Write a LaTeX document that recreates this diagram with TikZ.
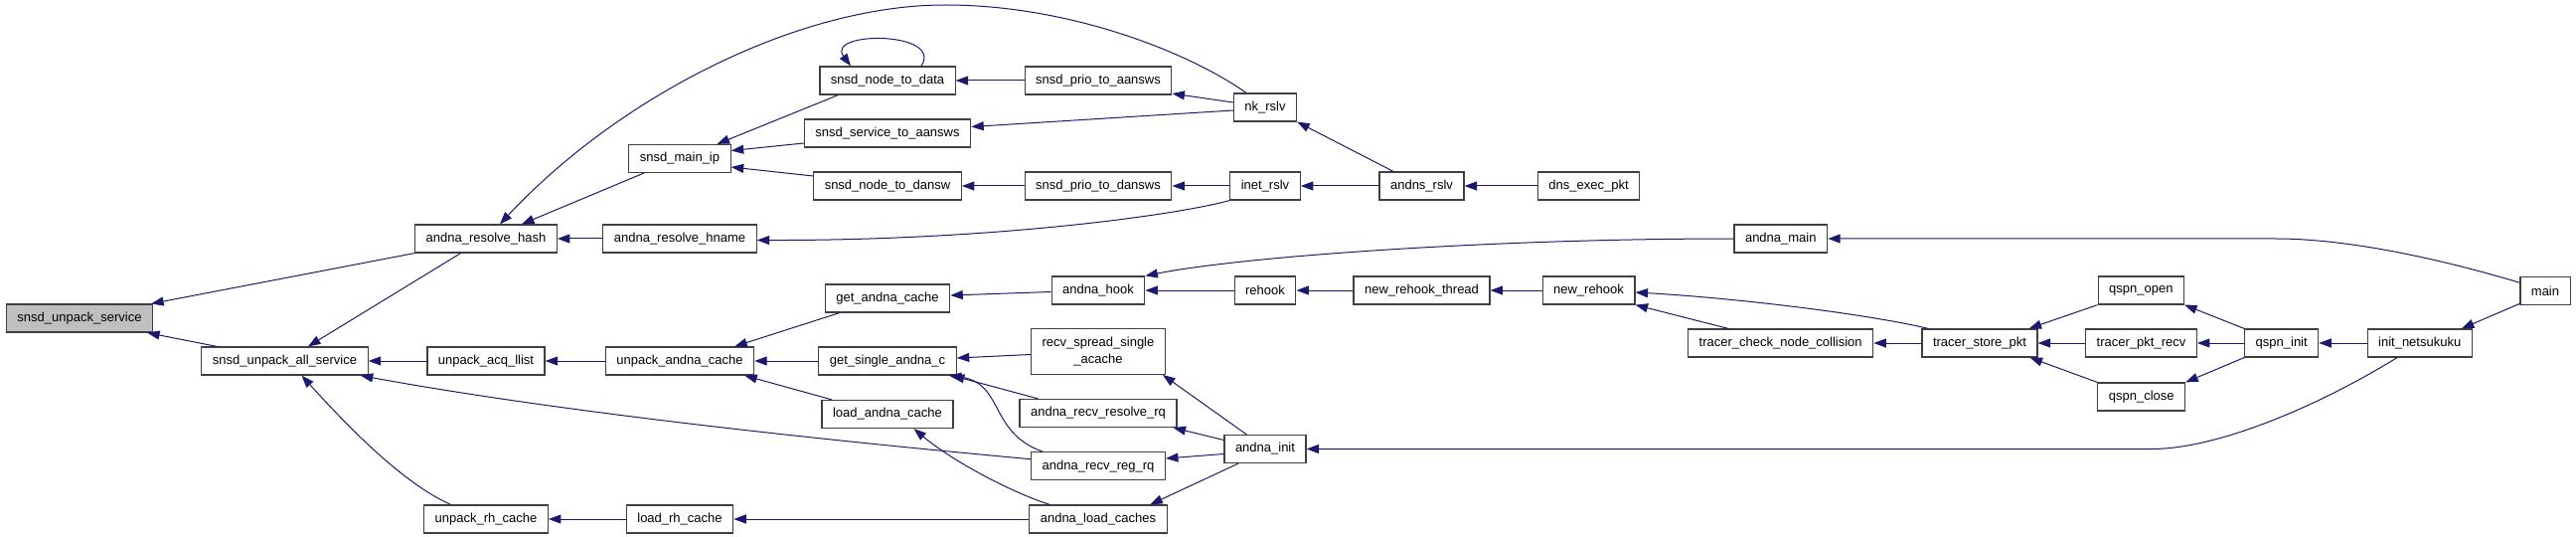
\documentclass[tikz,border=0pt]{standalone}
\usepackage{fontspec}
\setmainfont{Liberation Sans}
\usetikzlibrary{arrows.meta}
\definecolor{edgeblue}{HTML}{191970}
\definecolor{rootgray}{HTML}{BFBFBF}

\begin{document}
\begin{tikzpicture}[x=1pt, y=-1pt,
    fn/.style={draw=black!75, line width=1.2pt, fill=white, minimum height=28pt,
      inner xsep=11pt, inner ysep=2pt, font=\fontsize{13}{17.3}\selectfont},
    root/.style={fn, fill=rootgray},
    call/.style={draw=edgeblue, line width=1pt, -{Triangle[length=12.5pt, width=9pt]}}]
  \useasboundingbox (0,0) rectangle (2592,540);

  % functions, one column per rank
  \node[root] (unpackSvc) at (80,320) {snsd\_unpack\_service};
  \node[fn] (unpackAll) at (286.5,363) {snsd\_unpack\_all\_service};
  \node[fn] (resolveHash) at (489,240) {andna\_resolve\_hash};
  \node[fn] (acqLlist) at (489,363) {unpack\_acq\_llist};
  \node[fn] (rhCache) at (489,522) {unpack\_rh\_cache};
  \node[fn] (mainIp) at (684,159.5) {snsd\_main\_ip};
  \node[fn] (resolveHname) at (684,240) {andna\_resolve\_hname};
  \node[fn] (unpackAndna) at (684,363) {unpack\_andna\_cache};
  \node[fn] (loadRh) at (684,522) {load\_rh\_cache};
  \node[fn] (nodeToData) at (893,81) {snsd\_node\_to\_data};
  \node[fn] (svcToAansws) at (893,134) {snsd\_service\_to\_aansws};
  \node[fn] (nodeToDansw) at (893,187) {snsd\_node\_to\_dansw};
  \node[fn] (getAndna) at (893,300) {get\_andna\_cache};
  \node[fn] (getSingle) at (893,363) {get\_single\_andna\_c};
  \node[fn] (loadAndna) at (893,416.5) {load\_andna\_cache};
  \node[fn] (prioAansws) at (1105,81) {snsd\_prio\_to\_aansws};
  \node[fn] (prioDansws) at (1105,187) {snsd\_prio\_to\_dansws};
  \node[fn] (andnaHook) at (1105,292) {andna\_hook};
  \node[fn, minimum height=45.7pt, align=center] (spreadAcache) at (1105,353.5) {recv\_spread\_single\\\_acache};
  \node[fn] (recvResolve) at (1105,415.5) {andna\_recv\_resolve\_rq};
  \node[fn] (recvReg) at (1105,468.7) {andna\_recv\_reg\_rq};
  \node[fn] (loadCaches) at (1105,522) {andna\_load\_caches};
  \node[fn] (nkRslv) at (1273,108) {nk\_rslv};
  \node[fn] (inetRslv) at (1273,187) {inet\_rslv};
  \node[fn] (rehook) at (1273,292) {rehook};
  \node[fn] (andnaInit) at (1273,451.5) {andna\_init};
  \node[fn] (andnsRslv) at (1430.5,187) {andns\_rslv};
  \node[fn] (rehookThread) at (1430.5,292) {new\_rehook\_thread};
  \node[fn] (dnsExec) at (1598.5,187) {dns\_exec\_pkt};
  \node[fn] (newRehook) at (1598.5,292) {new\_rehook};
  \node[fn] (andnaMain) at (1791.8,240) {andna\_main};
  \node[fn] (checkCollision) at (1791.7,345) {tracer\_check\_node\_collision};
  \node[fn] (storePkt) at (1992,345) {tracer\_store\_pkt};
  \node[fn] (qspnOpen) at (2154.3,292) {qspn\_open};
  \node[fn] (pktRecv) at (2154.5,345) {tracer\_pkt\_recv};
  \node[fn] (qspnClose) at (2154.7,399) {qspn\_close};
  \node[fn] (qspnInit) at (2295.7,345) {qspn\_init};
  \node[fn] (initNetsukuku) at (2434.7,345) {init\_netsukuku};
  \node[fn] (mainFn) at (2561,292.8) {main};

  \coordinate (arcTop) at (951,5);
  \coordinate (mainBend) at (2290,240);
  \coordinate (initBend) at (2165,451.5);

  % straight calls inside one row
  \foreach \from/\to in {resolveHname/resolveHash, prioAansws/nodeToData,
      prioDansws/nodeToDansw, inetRslv/prioDansws, andnsRslv/inetRslv,
      dnsExec/andnsRslv, acqLlist/unpackAll, unpackAndna/acqLlist,
      getSingle/unpackAndna, loadCaches/loadRh, loadRh/rhCache,
      rehook/andnaHook, rehookThread/rehook, newRehook/rehookThread,
      storePkt/checkCollision, pktRecv/storePkt, qspnInit/pktRecv,
      initNetsukuku/qspnInit}
    \draw[call] (\from.west) -- (\to.east);

  % calls between rows
  \draw[call] (resolveHash.south west) -- ([xshift=-2pt]unpackSvc.north east);
  \draw[call] ([xshift=16pt]unpackAll.north west) -- ([xshift=-6pt]unpackSvc.south east);
  \draw[call] ([xshift=46.5pt]resolveHash.south west) -- ([xshift=23.5pt]unpackAll.north);
  \draw[call] ([xshift=15.5pt]mainIp.south west) -- ([xshift=36pt]resolveHash.north);
  \draw[call] ([xshift=-19pt]nkRslv.north) .. controls (1200,55) and (1080,5) .. (arcTop)
    .. controls (800,5) and (620,100) .. ([xshift=14pt]resolveHash.north);
  \draw[call] ([xshift=19pt]nodeToData.south west) -- ([xshift=37.5pt]mainIp.north);
  \draw[call] ([yshift=-10pt]svcToAansws.west) -- ([yshift=8pt]mainIp.east);
  \draw[call] ([yshift=10pt]nodeToDansw.west) -- ([yshift=-8.5pt]mainIp.east);
  \draw[call] ([xshift=34pt]nodeToData.north) .. controls (950,31) and (830,31) .. ([xshift=-37pt]nodeToData.north);
  \draw[call] ([yshift=5pt]nkRslv.west) -- ([yshift=1.5pt]prioAansws.south east);
  \draw[call] ([yshift=-3pt]nkRslv.west) -- ([yshift=6.5pt]svcToAansws.east);
  \draw[call] (inetRslv.south west) .. controls (1185,216) and (1000,242) .. ([yshift=-1.5pt]resolveHname.east);
  \draw[call] ([xshift=-28.5pt]andnsRslv.north) -- (nkRslv.south east);
  \draw[call] ([yshift=7pt]recvReg.west) .. controls (800,440) and (550,412) .. ([xshift=-8pt]unpackAll.south east);
  \draw[call] ([xshift=-35.5pt]rhCache.north) .. controls (410,488) and (360,440) .. ([xshift=17pt]unpackAll.south);
  \draw[call] ([xshift=15pt]getAndna.south west) -- ([xshift=-20pt]unpackAndna.north east);
  \draw[call] ([xshift=10.5pt]loadAndna.north west) -- ([xshift=-10pt]unpackAndna.south east);
  \draw[call] ([yshift=-1.5pt]andnaHook.west) -- ([yshift=3pt]getAndna.east);
  \draw[call] ([yshift=-3pt]spreadAcache.west) -- ([yshift=3pt]getSingle.east);
  \draw[call] ([xshift=19pt]recvResolve.north west) -- ([xshift=-5pt]getSingle.south east);
  \draw[call] ([xshift=12pt]recvReg.north west) .. controls (995,435) and (1010,385) .. ([xshift=-8pt]getSingle.south east);
  \draw[call] ([xshift=21pt]loadCaches.north west) .. controls (1020,496) and (960,465) .. ([xshift=26.5pt]loadAndna.south);
  \draw[call] (andnaMain.west) .. controls (1500,240) and (1250,258) .. (andnaHook.north east);
  \draw[call] ([xshift=6.7pt]storePkt.north west) .. controls (1880,316) and (1750,300) .. ([yshift=-2pt]newRehook.east);
  \draw[call] ([xshift=-52.7pt]checkCollision.north) -- (newRehook.south east);
  \draw[call] (qspnOpen.south west) -- ([xshift=-9pt]storePkt.north east);
  \draw[call] (qspnClose.north west) -- ([xshift=-8pt]storePkt.south east);
  \draw[call] (qspnInit.north west) -- (qspnOpen.south east);
  \draw[call] (qspnInit.south west) -- (qspnClose.north east);
  \draw[call] ([yshift=2pt]mainFn.south west) -- ([xshift=-11pt]initNetsukuku.north east);
  \draw[call] ([yshift=-6pt]mainFn.north west) .. controls (2420,250) and (2340,240) .. (mainBend) -- (andnaMain.east);
  \draw[call] ([xshift=-22.7pt]initNetsukuku.south) .. controls (2330,410) and (2230,451.5) .. (initBend) -- (andnaInit.east);
  \draw[call] ([xshift=-18.7pt]andnaInit.north) -- ([xshift=-3pt]spreadAcache.south east);
  \draw[call] ([yshift=9pt]andnaInit.west) -- ([xshift=-4pt]recvResolve.south east);
  \draw[call] ([yshift=-5pt]andnaInit.west) -- ([yshift=7.7pt]recvReg.east);
  \draw[call] ([xshift=-27pt]andnaInit.south) -- ([xshift=-17.5pt]loadCaches.north east);
\end{tikzpicture}
\end{document}
